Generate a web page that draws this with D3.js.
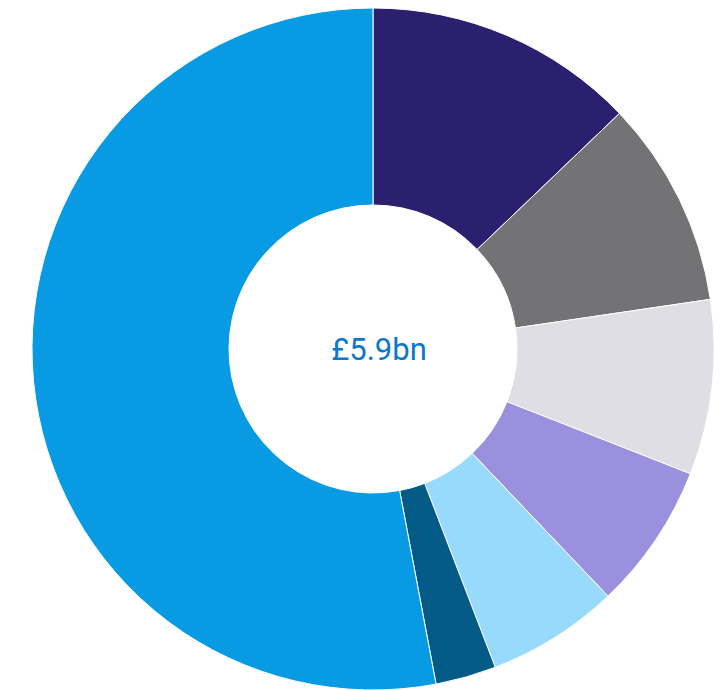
<!DOCTYPE html>
<html>
<head>
<meta charset="utf-8">
<script src="https://d3js.org/d3.v7.min.js"></script>
<style>
  body { margin: 0; background: #fff; }
</style>
</head>
<body>
<svg id="chart" width="720" height="690"></svg>
<script>
// slice values in £bn, clockwise from 12 o'clock
var segments = ['A', 'B', 'C', 'D', 'E', 'F', 'G'];
var values = [0.76, 0.58, 0.49, 0.41, 0.37, 0.17, 3.13];
var colours = ['#2b1f6f', '#737375', '#dedee4', '#9a90de', '#98dafb', '#055b88', '#089ae3'];
var totalLabel = '£5.9bn';

var svg = d3.select('#chart');
var g = svg.append('g').attr('transform', 'translate(373,349)');

var pie = d3.pie().sort(null).value(function(d) { return d; });
var arc = d3.arc().innerRadius(144).outerRadius(341);

g.selectAll('path')
  .data(pie(values))
  .enter()
  .append('path')
  .attr('d', arc)
  .attr('fill', function(d, i) { return colours[i]; })
  .attr('stroke', '#fff')
  .attr('stroke-width', 1);

g.append('text')
  .attr('x', 6)
  .attr('y', 11)
  .attr('text-anchor', 'middle')
  .attr('font-family', 'Roboto')
  .attr('font-size', 31)
  .attr('fill', '#0d77cb')
  .text(totalLabel);
</script>
</body>
</html>
